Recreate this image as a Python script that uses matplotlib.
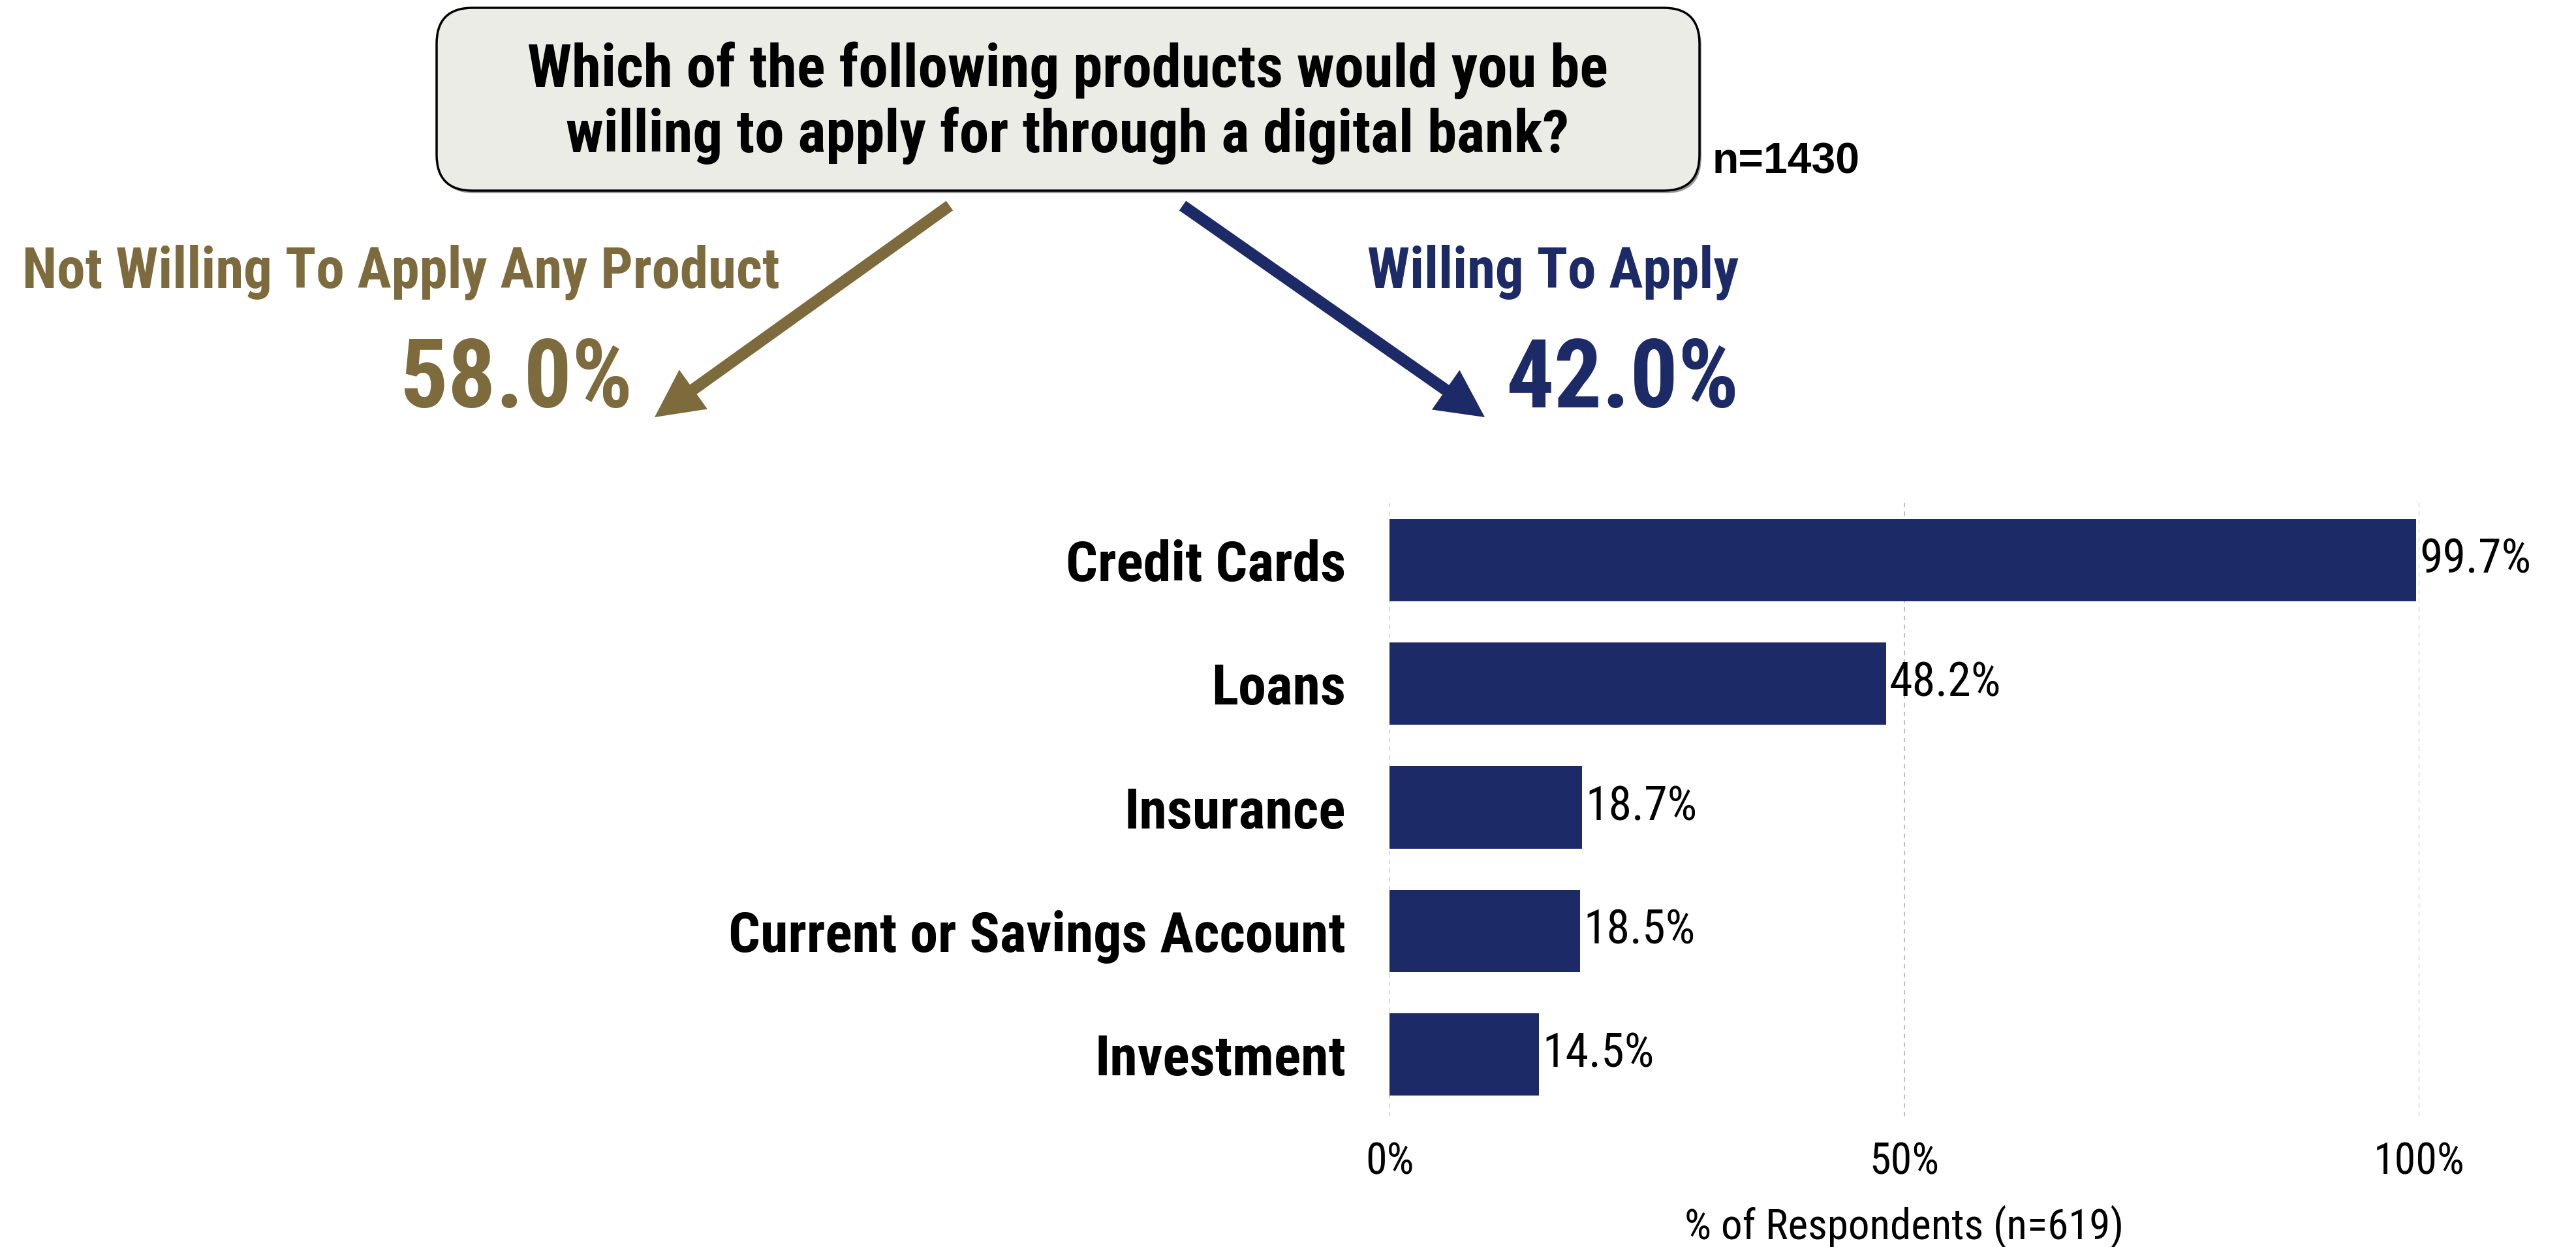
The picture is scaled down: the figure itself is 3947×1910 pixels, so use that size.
import matplotlib
matplotlib.use("Agg")
import matplotlib.pyplot as plt
from matplotlib import font_manager
from matplotlib.patches import FancyBboxPatch

# ---- data ----
categories = ["Credit Cards", "Loans", "Insurance", "Current or Savings Account", "Investment"]
values = [99.7, 48.2, 18.7, 18.5, 14.5]
x_ticks = [0, 50, 100]
x_tick_labels = ["0%", "50%", "100%"]
question_lines = ["Which of the following products would you be",
                  "willing to apply for through a digital bank?"]
total_n_label = "n=1430"
not_willing_label = "Not Willing To Apply Any Product"
not_willing_share = 58.0
willing_label = "Willing To Apply"
willing_share = 42.0
x_axis_label = "% of Respondents (n=619)"

NAVY = "#1D2A68"
GOLD = "#7D6B3E"
BOX_FILL = "#ECECE7"

W, H = 3948, 1910
DPI = 100

available = {f.name for f in font_manager.fontManager.ttflist}
COND = next((n for n in ["Roboto Condensed", "Liberation Sans Narrow", "Open Sans Condensed"]
             if n in available), "DejaVu Sans")
BOLD_WIDE = "Liberation Sans" if "Liberation Sans" in available else "DejaVu Sans"

fig = plt.figure(figsize=(W / DPI, H / DPI), dpi=DPI)
fig.patch.set_facecolor("white")

# overlay axes in pixel units (origin top-left) for annotations
ov = fig.add_axes([0, 0, 1, 1], zorder=0)
ov.set_xlim(0, W)
ov.set_ylim(H, 0)
ov.axis("off")

def px_to_pt(px):
    return px * 72.0 / DPI

# question box
box = FancyBboxPatch((669, 12), 2604 - 669, 292 - 12,
                     boxstyle="round,pad=0,rounding_size=55",
                     facecolor=BOX_FILL, edgecolor="black", linewidth=2.5)
shadow = FancyBboxPatch((672, 16), 2604 - 669, 292 - 12,
                        boxstyle="round,pad=0,rounding_size=55",
                        facecolor="#9a9a9a", edgecolor="none", linewidth=0)
ov.add_patch(shadow)
ov.add_patch(box)

q_size = px_to_pt(91)
ov.text(1636, 133, question_lines[0], ha="center", va="baseline",
        fontsize=q_size, fontweight="bold", family=COND, color="black")
ov.text(1636, 233, question_lines[1], ha="center", va="baseline",
        fontsize=q_size, fontweight="bold", family=COND, color="black")
ov.text(2623, 265, total_n_label, ha="left", va="baseline",
        fontsize=px_to_pt(66), fontweight="bold", family=BOLD_WIDE, color="black")

# split headings
head_size = px_to_pt(87)
share_size = px_to_pt(146)
ov.text(614, 441, not_willing_label, ha="center", va="baseline",
        fontsize=head_size, fontweight="bold", family=COND, color=GOLD)
ov.text(791, 624, f"{not_willing_share:.1f}%", ha="center", va="baseline",
        fontsize=share_size, fontweight="bold", family=COND, color=GOLD)
ov.text(2664, 441, willing_label, ha="right", va="baseline",
        fontsize=head_size, fontweight="bold", family=COND, color=NAVY)
ov.text(2664, 624, f"{willing_share:.1f}%", ha="right", va="baseline",
        fontsize=share_size, fontweight="bold", family=COND, color=NAVY)

# arrows from the question to each share
ov.arrow(1455, 315, 1003 - 1455, 639 - 315, width=18, head_width=74, head_length=73,
         length_includes_head=True, color=GOLD, linewidth=0)
ov.arrow(1812, 315, 2275 - 1812, 639 - 315, width=18, head_width=74, head_length=73,
         length_includes_head=True, color=NAVY, linewidth=0)

# ---- bar chart ----
ax_l, ax_r, ax_t, ax_b = 2129, 3707, 763, 1710
ax = fig.add_axes([ax_l / W, 1 - ax_b / H, (ax_r - ax_l) / W, (ax_b - ax_t) / H], zorder=1)
ax.patch.set_alpha(0)
ypos = list(range(len(categories)))
ax.barh(ypos, values, height=0.667, color=NAVY, zorder=2)
ax.set_xlim(0, 100)
ax.set_ylim(len(categories) - 0.5, -0.5)
for s in ax.spines.values():
    s.set_visible(False)

ax.set_xticks(x_ticks)
ax.set_xticklabels(x_tick_labels, family=COND, fontsize=px_to_pt(66))
ax.set_yticks(ypos)
ax.set_yticklabels(categories, family=COND, fontweight="bold", fontsize=px_to_pt(86))
ax.tick_params(axis="x", length=0, pad=px_to_pt(38))
ax.tick_params(axis="y", length=0, pad=px_to_pt(67))
ax.grid(axis="x", linestyle=(0, (4, 4)), color="#b0b0b0", linewidth=1.2, zorder=0)
ax.grid(axis="y", visible=False)

for y, v in zip(ypos, values):
    ax.text(v + 0.35, y, f"{v:.1f}%", ha="left", va="center",
            family=COND, fontsize=px_to_pt(72), color="black")

ax.set_xlabel(x_axis_label, family=COND, fontsize=px_to_pt(65), va="baseline")
ax.xaxis.set_label_coords(0.5, -(1898 - ax_b) / (ax_b - ax_t))

fig.savefig("out.png", dpi=DPI, facecolor="white")
